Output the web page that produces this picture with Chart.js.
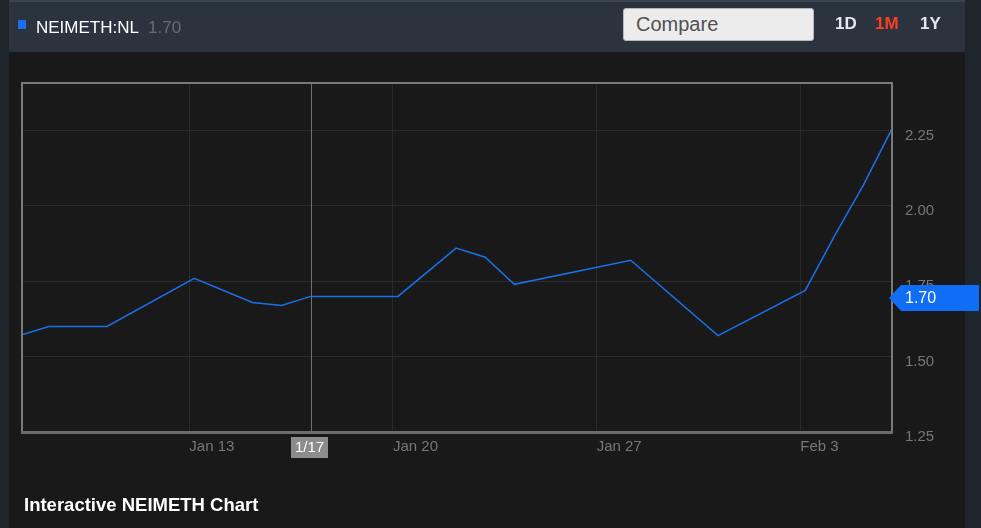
<!DOCTYPE html>
<html>
<head>
<meta charset="utf-8">
<script src="https://cdn.jsdelivr.net/npm/chart.js@4.4.1/dist/chart.umd.min.js"></script>
<style>
  html, body { margin: 0; padding: 0; }
  body { width: 981px; height: 528px; background: #1e252d; position: relative; overflow: hidden;
         font-family: 'Liberation Sans', Arial, sans-serif; }
  #head { position: absolute; left: 9px; top: 0; width: 956px; height: 52px; background: #2b343e;
          border-top: 2px solid #3b4550; box-sizing: border-box; }
  #panel { position: absolute; left: 9px; top: 52px; width: 956px; height: 476px; background: #191919; }
  #chart { position: absolute; left: 0; top: 0; }
  .t { position: absolute; white-space: nowrap; z-index: 2; }
  #sq { position: absolute; left: 18px; top: 20px; width: 8px; height: 9px; background: #1a6ef0; z-index: 2; }
  #sym { left: 36px; top: 18px; font-size: 17px; color: #fff; }
  #last { left: 148px; top: 18px; font-size: 17px; color: #6b6b6b; }
  #cmp { position: absolute; left: 623px; top: 8px; width: 191px; height: 33px; box-sizing: border-box;
         background: #ececec; border: 1px solid #b8b8b8; border-radius: 3px; z-index: 2;
         font-size: 20px; color: #505050; padding: 4px 0 0 12px; }
  .rng { top: 14px; font-size: 17px; font-weight: bold; color: #e4e8ee; }
  #title { left: 24px; top: 494px; font-size: 18.5px; font-weight: bold; color: #fff; }
</style>
</head>
<body>
<div id="head"></div>
<div id="panel"></div>
<canvas id="chart" width="981" height="528"></canvas>
<div id="sq"></div>
<div class="t" id="sym">NEIMETH:NL</div>
<div class="t" id="last">1.70</div>
<div id="cmp">Compare</div>
<div class="t rng" style="left:835px">1D</div>
<div class="t rng" style="left:875px;color:#ff3d1f">1M</div>
<div class="t rng" style="left:920px">1Y</div>
<div class="t" id="title">Interactive NEIMETH Chart</div>
<script>
// trading days (m/d) and closing prices
const dates = ["1/7","1/8","1/10","1/13","1/15","1/16","1/17","1/20","1/22","1/23","1/24","1/28","1/31","2/3","2/4","2/5","2/6"];
const prices = [1.57, 1.60, 1.60, 1.76, 1.68, 1.67, 1.70, 1.70, 1.86, 1.83, 1.74, 1.82, 1.57, 1.72, 1.90, 2.07, 2.26];

const tickDays = [13, 20, 27, 34];
const tickLabels = ["Jan 13", "Jan 20", "Jan 27", "Feb 3"];
const priceTicks = [1.25, 1.50, 1.75, 2.00, 2.25];
const lastClose = 1.70;
const hoverDate = "1/17";

// day number counted from Jan 0, plus the time-of-day offset of each quote
function dayNum(s) {
  const p = s.split("/");
  return (p[0] === "2" ? 31 : 0) + Number(p[1]) + 0.17;
}

const points = dates.map((d, i) => ({ x: dayNum(d), y: prices[i] }));

const frame = {
  id: 'frame',
  afterDraw(chart) {
    const ctx = chart.ctx, a = chart.chartArea;
    const meta = chart.getDatasetMeta(0);
    const pt = meta.data[dates.indexOf(hoverDate)];
    ctx.save();
    // crosshair
    ctx.strokeStyle = '#707070';
    ctx.lineWidth = 1;
    ctx.beginPath();
    ctx.moveTo(Math.round(pt.x) + 0.5, a.top);
    ctx.lineTo(Math.round(pt.x) + 0.5, a.bottom);
    ctx.stroke();
    // box round plot
    ctx.strokeStyle = '#7a7a7a';
    ctx.lineWidth = 2;
    ctx.strokeRect(a.left, a.top, a.right - a.left, a.bottom - a.top);
    ctx.strokeStyle = '#6c6c6c';
    ctx.lineWidth = 3;
    ctx.beginPath();
    ctx.moveTo(a.left - 1, a.bottom + 0.5);
    ctx.lineTo(a.right + 1, a.bottom + 0.5);
    ctx.stroke();
    // hover date label
    ctx.fillStyle = '#8c8c8c';
    ctx.fillRect(Math.round(pt.x) - 20, a.bottom + 5, 37, 21);
    ctx.fillStyle = '#fff';
    ctx.font = "15px 'Liberation Sans', Arial, sans-serif";
    ctx.textAlign = 'center';
    ctx.textBaseline = 'middle';
    ctx.fillText(hoverDate, Math.round(pt.x) - 1.5, a.bottom + 16);
    // last price marker
    const y = chart.scales.y.getPixelForValue(lastClose) + 1.5;
    const tx = a.right - 3;
    ctx.fillStyle = '#0f6ef5';
    ctx.beginPath();
    ctx.moveTo(tx, y);
    ctx.lineTo(tx + 12, y - 13);
    ctx.lineTo(chart.width - 2, y - 13);
    ctx.lineTo(chart.width - 2, y + 13);
    ctx.lineTo(tx + 12, y + 13);
    ctx.closePath();
    ctx.fill();
    ctx.fillStyle = '#fff';
    ctx.font = "16px 'Liberation Sans', Arial, sans-serif";
    ctx.textAlign = 'left';
    ctx.fillText(lastClose.toFixed(2), a.right + 13, y + 1);
    ctx.restore();
  }
};

Chart.defaults.font.family = "'Liberation Sans', Arial, sans-serif";

new Chart(document.getElementById("chart"), {
  type: 'line',
  data: {
    datasets: [{
      data: points,
      borderColor: '#1a70ec',
      borderWidth: 1.5,
      pointRadius: 0,
      tension: 0,
      fill: false
    }]
  },
  options: {
    responsive: false,
    animation: false,
    events: [],
    layout: { padding: { left: 22, top: 83, right: 0, bottom: 0 } },
    plugins: { legend: { display: false }, tooltip: { enabled: false } },
    scales: {
      x: {
        type: 'linear',
        min: 7.25,
        max: 37.15,
        afterBuildTicks: (s) => { s.ticks = tickDays.map(v => ({ value: v })); },
        afterFit: (s) => { s.height = 96; },
        grid: { color: '#2b2b2b', drawTicks: false },
        border: { display: false },
        ticks: {
          align: 'start',
          padding: 6,
          color: '#777',
          font: { size: 15 },
          autoSkip: false,
          maxRotation: 0,
          callback: (v, i) => tickLabels[i]
        }
      },
      y: {
        position: 'right',
        min: 1.25,
        max: 2.408,
        afterBuildTicks: (s) => { s.ticks = priceTicks.map(v => ({ value: v })); },
        afterFit: (s) => { s.width = 89; },
        grid: { color: '#2b2b2b', drawTicks: false },
        border: { display: false },
        ticks: {
          padding: 13,
          labelOffset: 5,
          color: '#777',
          font: { size: 15 },
          callback: (v) => Number(v).toFixed(2)
        }
      }
    }
  },
  plugins: [frame]
});
</script>
</body>
</html>
